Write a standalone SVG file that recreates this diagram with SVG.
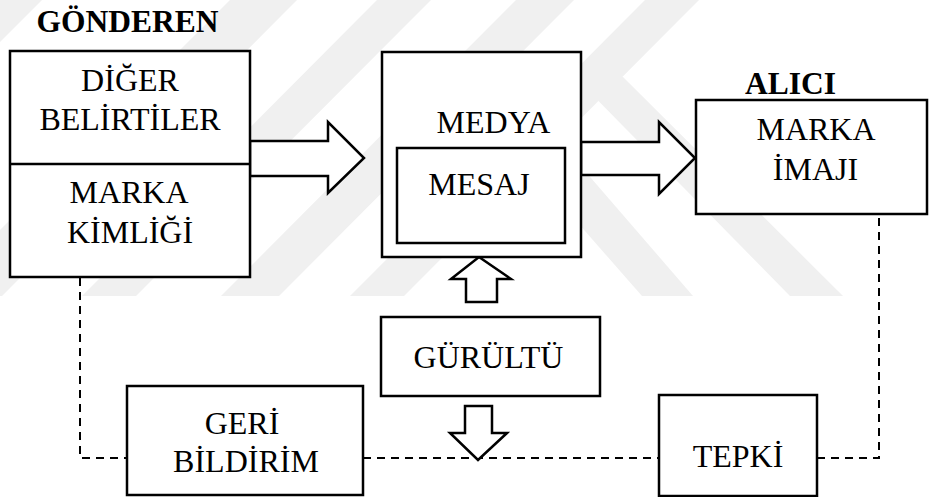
<svg xmlns="http://www.w3.org/2000/svg" width="929" height="497" viewBox="0 0 929 497">
<style>
.box{fill:#fff;stroke:#000;stroke-width:2.5}
.arr{fill:#fff;stroke:#000;stroke-width:2.5;stroke-linejoin:miter}
.dash{fill:none;stroke:#000;stroke-width:2;stroke-dasharray:8 6}
.t{font-family:"Liberation Serif","Times New Roman",serif;font-size:32px;fill:#000;text-anchor:middle}
.b{font-weight:bold;font-size:31.5px}
.wm{fill:#f0f0f0}
</style>
<rect width="929" height="497" fill="#fff"/>
<g id="watermark">
<polygon class="wm" points="-20,0 42,0 -13,55 -20,55"/>
<polygon class="wm" points="230,0 297,0 2,296 -66,296"/>
<polygon class="wm" points="377,0 431,0 136,296 82,296"/>
<polygon class="wm" points="516,0 574,0 279,296 221,296"/>
<polygon class="wm" points="645,0 699,0 404,296 350,296"/>
<polygon class="wm" points="489,60 693,296 642,296 435,60"/>
<polygon class="wm" points="623,77 843,296 790,296 571,73"/>
</g>
<g id="connectors">
<path class="dash" d="M80,278 V458 H127"/>
<path class="dash" d="M363,458 H659"/>
<path class="dash" d="M817,458 H879 V215"/>
<polygon class="arr" points="250,141 328,141 328,122 364,158 328,193 328,176 250,176"/>
<polygon class="arr" points="581,142 659,142 659,122 695,158 659,194 659,175 581,175"/>
<polygon class="arr" points="479,257 511,279 497,279 497,302 466,302 466,279 451,279"/>
<polygon class="arr" points="465,406 492,406 492,433 507,433 478,460 450,433 465,433"/>
</g>
<g id="gonderen">
<text class="t b" x="127.5" y="32">GÖNDEREN</text>
<rect class="box" x="10" y="51" width="240" height="226"/>
<line x1="10" y1="164" x2="250" y2="164" stroke="#000" stroke-width="2.5"/>
<text class="t" x="130" y="91">DİĞER</text>
<text class="t" x="130" y="130">BELİRTİLER</text>
<text class="t" x="129" y="203">MARKA</text>
<text class="t" x="130" y="243">KİMLİĞİ</text>
</g>
<g id="medya">
<rect class="box" x="382" y="52" width="199" height="205"/>
<text class="t" x="493.5" y="133">MEDYA</text>
</g>
<g id="mesaj">
<rect class="box" x="397" y="148" width="168" height="95"/>
<text class="t" x="479" y="195">MESAJ</text>
</g>
<g id="alici">
<text class="t b" x="790.5" y="94">ALICI</text>
<rect class="box" x="696" y="100" width="231" height="114"/>
<text class="t" x="816" y="140">MARKA</text>
<text class="t" x="815.5" y="180">İMAJI</text>
</g>
<g id="gurultu">
<rect class="box" x="381" y="317" width="219" height="79"/>
<text class="t" x="488.5" y="368">GÜRÜLTÜ</text>
</g>
<g id="geri-bildirim">
<rect class="box" x="127" y="386" width="236" height="109"/>
<text class="t" x="242" y="434">GERİ</text>
<text class="t" x="246" y="472">BİLDİRİM</text>
</g>
<g id="tepki">
<rect class="box" x="659" y="395" width="158" height="101"/>
<text class="t" x="738" y="467">TEPKİ</text>
</g>
</svg>
